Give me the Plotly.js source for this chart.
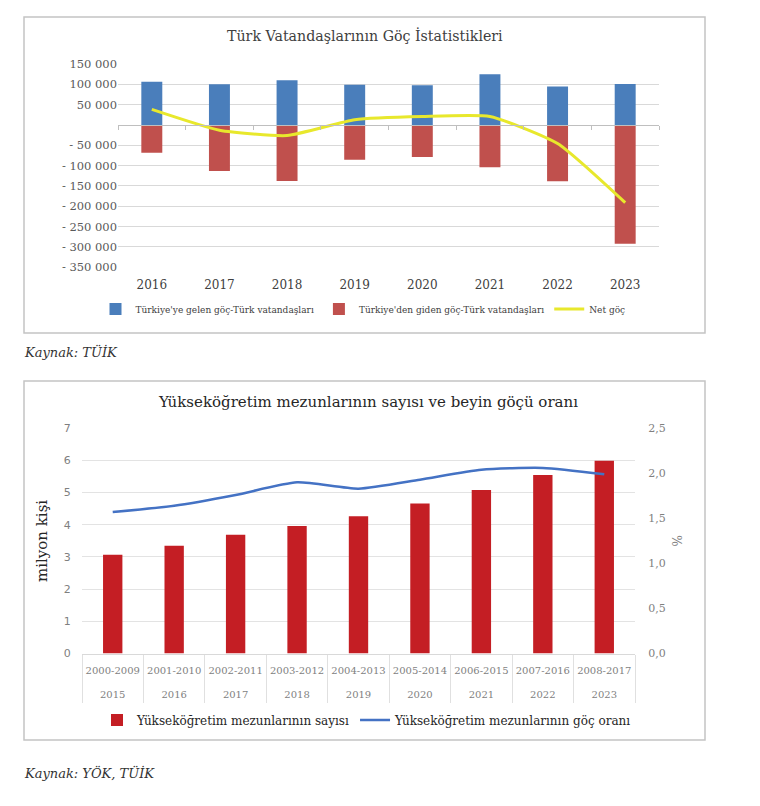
<!DOCTYPE html>
<html><head><meta charset="utf-8">
<script src="https://cdn.plot.ly/plotly-3.0.1.min.js"></script>
<style>html,body{margin:0;padding:0;background:#fff}</style>
</head><body><div id="chart" style="width:760px;height:806px"></div>
<script>
// ---- Top chart data ----
const years = ['2016','2017','2018','2019','2020','2021','2022','2023'];
const gelen = [106500, 100000, 110000, 99200, 97600, 124500, 94400, 100700];
const giden = [-68000, -113000, -137500, -85300, -78700, -104000, -138500, -292000];
const netGoc = [38500, -12800, -26000, 13000, 20800, 21000, -45500, -191000];
const topTickVals = [150000, 100000, 50000, -50000, -100000, -150000, -200000, -250000, -300000, -350000];
const topTickText = ['150 000','100 000','50 000','- 50 000','- 100 000','- 150 000','- 200 000','- 250 000','- 300 000','- 350 000'];

// ---- Bottom chart data ----
const periods = ['2000-2009','2001-2010','2002-2011','2003-2012','2004-2013','2005-2014','2006-2015','2007-2016','2008-2017'];
const gradYears = ['2015','2016','2017','2018','2019','2020','2021','2022','2023'];
const mezunSayisi = [3.07, 3.35, 3.69, 3.96, 4.27, 4.66, 5.08, 5.55, 5.99];
const gocOrani = [1.57, 1.64, 1.76, 1.90, 1.83, 1.93, 2.04, 2.06, 1.99];
const rightTickVals = [0, 0.5, 1, 1.5, 2, 2.5];
const rightTickText = ['0,0','0,5','1,0','1,5','2,0','2,5'];

const W = 760, H = 806;
const px = v => v / W;
const py = v => 1 - v / H;
const SERIF = 'DejaVu Serif, serif';

const topY = [py(267.3), py(64)];
const zeroPos = topY[0] + 0.7 * (topY[1] - topY[0]);
const botY = [py(653.5), py(428.3)];
const nulls = arr => arr.map(() => null);

const traces = [
  {type:'bar', x:years, y:gelen, name:"Türkiye'ye gelen göç-Türk vatandaşları",
   marker:{color:'#4a7ebb'}, width:0.31, xaxis:'x', yaxis:'y', legend:'legend'},
  {type:'bar', x:years, y:giden, name:"Türkiye'den giden göç-Türk vatandaşları",
   marker:{color:'#c0504d'}, width:0.31, xaxis:'x', yaxis:'y', legend:'legend'},
  {type:'scatter', mode:'lines', x:years, y:netGoc, name:'Net göç',
   line:{color:'#e8e82c', width:3, shape:'spline', smoothing:0.5}, xaxis:'x', yaxis:'y', legend:'legend'},
  {type:'scatter', mode:'lines', x:years, y:nulls(years), showlegend:false, hoverinfo:'skip',
   xaxis:'x2', yaxis:'y'},
  {type:'bar', x:periods, y:mezunSayisi, name:'Yükseköğretim mezunlarının sayısı',
   marker:{color:'#c41e24'}, width:0.315, xaxis:'x3', yaxis:'y3', legend:'legend2'},
  {type:'scatter', mode:'lines', x:periods, y:gocOrani, name:'Yükseköğretim mezunlarının göç oranı',
   line:{color:'#4472c4', width:2.5, shape:'spline', smoothing:0.6}, xaxis:'x3', yaxis:'y4', legend:'legend2'},
  {type:'scatter', mode:'lines', x:periods, y:nulls(periods), showlegend:false, hoverinfo:'skip',
   xaxis:'x4', yaxis:'y3'},
  {type:'scatter', mode:'lines', x:periods, y:nulls(periods), showlegend:false, hoverinfo:'skip',
   xaxis:'x5', yaxis:'y3'}
];

const layout = {
  width:W, height:H, margin:{l:0,r:0,t:0,b:0},
  paper_bgcolor:'#fff', plot_bgcolor:'rgba(0,0,0,0)',
  barmode:'relative',
  font:{family:SERIF, color:'#404040'},
  xaxis:{domain:[px(118), px(659)], anchor:'y', type:'category',
    showgrid:false, zeroline:false, showline:false,
    ticks:'outside', ticklen:6, tickcolor:'rgba(0,0,0,0)',
    tickfont:{family:SERIF, size:12, color:'#404040'}},
  xaxis2:{overlaying:'x', matches:'x', anchor:'free', position:zeroPos, type:'category',
    showgrid:false, zeroline:false, showline:true, linecolor:'#bfbfbf', linewidth:1,
    ticks:'outside', tickson:'boundaries', ticklen:4, tickcolor:'#bfbfbf',
    showticklabels:false},
  yaxis:{domain:topY, anchor:'x', range:[-350000,150000],
    tickvals:topTickVals, ticktext:topTickText,
    showgrid:true, gridcolor:'#d9d9d9', gridwidth:1, zeroline:false, showline:false,
    ticks:'', tickfont:{family:SERIF, size:11.5, color:'#595959'}},
  xaxis3:{domain:[px(82), px(635)], anchor:'y3', type:'category',
    showgrid:false, zeroline:false, showline:true, linecolor:'#d9d9d9', linewidth:1,
    ticks:'outside', ticklen:7, tickcolor:'rgba(0,0,0,0)', tickangle:0,
    tickfont:{family:SERIF, size:10, color:'#7f7f7f'}},
  xaxis4:{overlaying:'x3', matches:'x3', anchor:'y3', type:'category',
    showgrid:false, zeroline:false, showline:false, tickangle:0,
    tickvals:periods, ticktext:gradYears,
    ticks:'outside', ticklen:31, tickcolor:'rgba(0,0,0,0)',
    tickfont:{family:SERIF, size:10, color:'#7f7f7f'}},
  xaxis5:{overlaying:'x3', matches:'x3', anchor:'y3', type:'category',
    showgrid:false, zeroline:false, showline:false, showticklabels:false,
    ticks:'outside', tickson:'boundaries', ticklen:48, tickcolor:'#e0e0e0', tickwidth:1},
  yaxis3:{domain:botY, anchor:'x3', range:[0,7], dtick:1,
    showgrid:true, gridcolor:'#e3e3e3', gridwidth:1, zeroline:false, showline:false,
    ticks:'outside', ticklen:8, tickcolor:'rgba(0,0,0,0)',
    tickfont:{family:'DejaVu Sans, sans-serif', size:11, color:'#7f7f7f'},
    title:{text:'milyon kişi', standoff:12, font:{family:SERIF, size:15, color:'#262626'}}},
  yaxis4:{overlaying:'y3', side:'right', anchor:'x3', range:[0,2.5],
    tickvals:rightTickVals, ticktext:rightTickText,
    showgrid:false, zeroline:false, showline:false,
    ticks:'outside', ticklen:10, tickcolor:'rgba(0,0,0,0)',
    tickfont:{family:SERIF, size:11, color:'#7f7f7f'},
    title:{text:'%', standoff:8, font:{family:SERIF, size:12, color:'#7f7f7f'}}},
  legend:{orientation:'h', x:px(363), xanchor:'center', y:py(309), yanchor:'middle',
    font:{family:SERIF, size:9, color:'#404040'}, bgcolor:'rgba(0,0,0,0)', itemwidth:30, tracegroupgap:0},
  legend2:{orientation:'h', x:px(367), xanchor:'center', y:py(720), yanchor:'middle',
    font:{family:SERIF, size:12, color:'#262626'}, bgcolor:'rgba(0,0,0,0)', itemwidth:30},
  shapes:[
    {type:'rect', xref:'paper', yref:'paper', x0:px(24), x1:px(705), y0:py(333), y1:py(17),
     line:{color:'#c4c4c4', width:1.5}, fillcolor:'rgba(0,0,0,0)', layer:'below'},
    {type:'rect', xref:'paper', yref:'paper', x0:px(24), x1:px(705), y0:py(740), y1:py(381),
     line:{color:'#c4c4c4', width:1.5}, fillcolor:'rgba(0,0,0,0)', layer:'below'}
  ],
  annotations:[
    {text:'Türk Vatandaşlarının Göç İstatistikleri', xref:'paper', yref:'paper',
     x:px(365), y:py(35), xanchor:'center', yanchor:'middle', showarrow:false,
     font:{family:SERIF, size:14.2, color:'#404040'}},
    {text:'Yükseköğretim mezunlarının sayısı ve beyin göçü oranı', xref:'paper', yref:'paper',
     x:px(368), y:py(402), xanchor:'center', yanchor:'middle', showarrow:false,
     font:{family:SERIF, size:15, color:'#262626'}},
    {text:'<i>Kaynak: TÜİK</i>', xref:'paper', yref:'paper',
     x:px(22), y:py(352), xanchor:'left', yanchor:'middle', showarrow:false,
     font:{family:SERIF, size:13, color:'#333333'}},
    {text:'<i>Kaynak: YÖK, TÜİK</i>', xref:'paper', yref:'paper',
     x:px(22), y:py(773), xanchor:'left', yanchor:'middle', showarrow:false,
     font:{family:SERIF, size:13, color:'#333333'}}
  ]
};

Plotly.newPlot('chart', traces, layout, {staticPlot:true, displayModeBar:false});
</script>
</body></html>
